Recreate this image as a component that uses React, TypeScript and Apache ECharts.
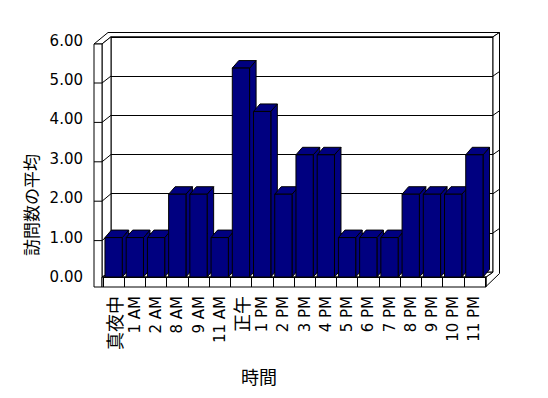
import React, { useEffect, useRef } from 'react';
import * as echarts from 'echarts';

const categories = ['真夜中', '1 AM', '2 AM', '8 AM', '9 AM', '11 AM', '正午', '1 PM', '2 PM', '3 PM', '4 PM', '5 PM', '6 PM', '7 PM', '8 PM', '9 PM', '10 PM', '11 PM'];
const avgVisits = [1, 1, 1, 2.1, 2.1, 1, 5.3, 4.2, 2.1, 3.1, 3.1, 1, 1, 1, 2.1, 2.1, 2.1, 3.1];
const yMin = 0;
const yMax = 6;
const yStep = 1;
const xTitle = '時間';
const yTitle = '訪問数の平均';

// layout (pixels)
const FL = 103, FR = 485, FZ = 277, FTOP = 40.5; // bar plane
const BL = 111, BR = 493, BZ = 272.2, BTOP = 36.8; // back wall
const WO = 94, WI = 102; // left wall outer / inner x
const FB = 287; // floor bottom
const frontY = (v: number) => 280 - 39.4 * v;
const backY = (v: number) => BZ - ((BZ - BTOP) / 6) * v;

const LATIN = '"DejaVu Sans", "Noto Sans CJK JP", sans-serif';
const CJK = '"Noto Sans CJK JP", sans-serif';

function buildDecor() {
  const s = { fill: '#fff', stroke: '#000', lineWidth: 1 };
  const ls = { stroke: '#000', lineWidth: 1 };
  const els: any[] = [];
  // top face of walls
  els.push({ type: 'polygon', z: 1, shape: { points: [[WO, 44], [108, 32.5], [499.5, 32.5], [BR, BTOP], [BL, BTOP], [WI, 44]] }, style: s });
  // right strip (back wall thickness)
  els.push({ type: 'polygon', z: 1, shape: { points: [[BR, BTOP], [499.5, 32.5], [499.5, 273.5], [486, 286.5], [486, FZ], [BR, BZ]] }, style: s });
  // left wall inner surface
  els.push({ type: 'polygon', z: 1, shape: { points: [[WI, 44], [BL, BTOP], [BL, BZ], [WI, FZ]] }, style: s });
  // left wall front face
  els.push({ type: 'rect', z: 1, shape: { x: WO, y: 44, width: WI - WO, height: FB - 44 }, style: s });
  // floor top
  els.push({ type: 'polygon', z: 1, shape: { points: [[WI, FZ], [486, FZ], [BR, BZ], [BL, BZ]] }, style: s });
  // floor front
  els.push({ type: 'rect', z: 1, shape: { x: WI, y: FZ, width: 486 - WI, height: FB - FZ }, style: s });
  for (let v = 1; v < 6; v++) {
    els.push({ type: 'line', z: 1, shape: { x1: WO, y1: frontY(v), x2: WI, y2: frontY(v) }, style: ls });
    els.push({ type: 'line', z: 1, shape: { x1: WI, y1: frontY(v), x2: BL, y2: backY(v) }, style: ls });
    els.push({ type: 'line', z: 1, shape: { x1: BR, y1: backY(v), x2: 499.5, y2: backY(v) - 4.5 }, style: ls });
  }
  els.push({ type: 'text', z: 5, x: 259, y: 376, style: { text: xTitle, font: '18px ' + CJK, fill: '#000', align: 'center', verticalAlign: 'middle' } });
  els.push({ type: 'text', z: 5, x: 30, y: 205, rotation: Math.PI / 2, style: { text: yTitle, font: '17px ' + CJK, fill: '#000', align: 'center', verticalAlign: 'middle' } });
  return els;
}

export default function App() {
  const ref = useRef<HTMLDivElement>(null);
  useEffect(() => {
    if (!ref.current) return;
    const chart = echarts.init(ref.current, undefined, { renderer: 'svg' });
    const option: any = {
      animation: false,
      backgroundColor: '#fff',
      grid: [
        { left: FL, top: FTOP, width: FR - FL, height: FZ - FTOP, containLabel: false },
        { left: BL, top: BTOP, width: BR - BL, height: BZ - BTOP, show: true, borderColor: '#000', borderWidth: 1, backgroundColor: '#fff', containLabel: false },
      ],
      xAxis: [
        {
          type: 'category', gridIndex: 0, data: categories, z: 3,
          axisLine: { show: true, lineStyle: { color: '#000', width: 1 } },
          axisTick: { show: true, length: 10, lineStyle: { color: '#000', width: 1 } },
          axisLabel: {
            interval: 0, rotate: 90, margin: 19, color: '#000', fontFamily: LATIN, fontSize: 15,
            formatter: (v: string) => (/[^\x00-\x7F]/.test(v) ? `{c|${v}}` : v),
            rich: { c: { fontFamily: CJK, fontSize: 18, color: '#000' } },
          },
          splitLine: { show: false },
        },
        { type: 'category', gridIndex: 1, data: categories, show: false },
      ],
      yAxis: [
        {
          type: 'value', gridIndex: 0, min: yMin, max: yMax, interval: yStep,
          axisLine: { show: false }, axisTick: { show: false }, splitLine: { show: false },
          axisLabel: { formatter: (v: number) => v.toFixed(2), margin: 20, color: '#000', fontFamily: LATIN, fontSize: 15 },
        },
        {
          type: 'value', gridIndex: 1, min: yMin, max: yMax, interval: yStep,
          axisLine: { show: false }, axisTick: { show: false }, axisLabel: { show: false },
          splitLine: { show: true, lineStyle: { color: '#000', width: 1 } },
        },
      ],
      graphic: { elements: buildDecor() },
      series: [
        {
          type: 'custom', xAxisIndex: 0, yAxisIndex: 0, z: 4,
          data: avgVisits.map((v, i) => [i, v]),
          encode: { x: 0, y: 1 },
          renderItem: (params: any, api: any) => {
            const i = api.value(0);
            const v = api.value(1);
            const t = api.coord([i, v]);
            const b = api.coord([i, 0]);
            const bw = api.size([1, 0])[0];
            const w = bw * 0.815;
            const x0 = t[0] - w / 2, x1 = t[0] + w / 2;
            const dx = 6.5, dy = -7.5;
            const style = { fill: '#000080', stroke: '#000', lineWidth: 1 };
            return {
              type: 'group',
              children: [
                { type: 'polygon', shape: { points: [[x1, t[1]], [x1 + dx, t[1] + dy], [x1 + dx, b[1] + dy], [x1, b[1]]] }, style },
                { type: 'polygon', shape: { points: [[x0, t[1]], [x0 + dx, t[1] + dy], [x1 + dx, t[1] + dy], [x1, t[1]]] }, style },
                { type: 'rect', shape: { x: x0, y: t[1], width: w, height: b[1] - t[1] }, style },
              ],
            };
          },
        },
      ],
    };
    chart.setOption(option);
    return () => chart.dispose();
  }, []);
  return <div ref={ref} style={{ position: 'fixed', left: 0, top: 0, width: 548, height: 398 }} />;
}
